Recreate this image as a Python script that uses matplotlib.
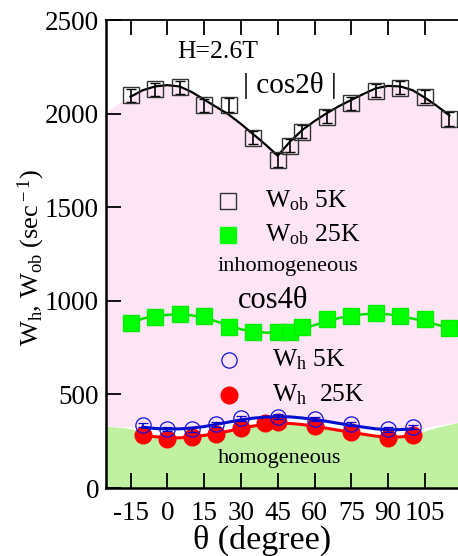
import matplotlib.pyplot as plt
import numpy as np

plt.rcParams['font.family'] = ['Liberation Serif', 'DejaVu Serif']
plt.rcParams['mathtext.fontset'] = 'custom'
plt.rcParams['mathtext.rm'] = 'Liberation Serif'
plt.rcParams['mathtext.it'] = 'Liberation Serif:italic'
plt.rcParams['axes.unicode_minus'] = False

# W_ob data (squares)
theta_ob = [-15, -5, 5, 15, 25, 35, 45, 50, 55, 65, 75, 85, 95, 105, 115]
wob_5k = [2099, 2130, 2140, 2045, 2046, 1870, 1752, 1829, 1903, 1983, 2055, 2122, 2139, 2090, 1971]
wob_5k_err = [35, 35, 35, 35, 35, 35, 35, 35, 35, 35, 35, 35, 35, 35, 35]
wob_25k = [880, 915, 929, 919, 859, 832, 832, 832, 862, 903, 919, 933, 919, 901, 853]

# W_h data (circles)
theta_h5 = [-10, 0, 10, 20, 30, 45, 60, 75, 90, 100]
wh_5k = [336, 315, 313, 340, 372, 381, 369, 342, 313, 327]
wh_5k_err = [12, 12, 12, 12, 12, 12, 12, 12, 12, 12]
theta_h25 = [-10, 0, 10, 20, 30, 40, 45, 60, 75, 90, 100]
wh_25k = [283, 260, 274, 287, 319, 346, 354, 333, 301, 265, 283]

# fit curves
fit_x_ob = [-15, -10, -5, 0, 5, 10, 15, 20, 25, 30, 35, 40, 45, 50, 55, 60, 65, 70, 75, 80,
            85, 90, 95, 100, 105, 110, 115]
fit_cos2 = [2090, 2125, 2145, 2152, 2145, 2115, 2075, 2035, 1995, 1945, 1890, 1835, 1775, 1850,
            1912, 1960, 2002, 2040, 2073, 2105, 2135, 2148, 2145, 2125, 2085, 2040, 1990]
fit_cos4 = [880, 905, 918, 925, 928, 922, 910, 890, 868, 848, 836, 830, 830, 835, 850, 870,
            890, 908, 920, 928, 932, 928, 918, 905, 890, 872, 855]
fit_x_h = [-10, -5, 0, 5, 10, 15, 20, 25, 30, 35, 40, 45, 50, 55, 60, 65, 70, 75, 80, 85, 90, 95, 100]
fit_h5 = [325, 318, 315, 316, 320, 328, 340, 352, 364, 373, 379, 381, 380, 374, 366, 356, 345,
          335, 325, 316, 311, 312, 316]
fit_h25 = [285, 274, 268, 268, 273, 281, 291, 304, 318, 331, 341, 346, 345, 339, 330, 319, 308,
           298, 287, 277, 272, 273, 278]

# shaded regions
shade_x = [-25, -20, -15, -10, 0, 10, 20, 30, 40, 45, 60, 75, 90, 100, 105, 110, 118.5]
pink_top = [2005, 2055, 2090, 2125, 2152, 2115, 2035, 1945, 1835, 1775, 1960, 2073, 2148, 2125,
            2085, 2040, 1955]
pink_bottom = [330, 328, 326, 325, 315, 320, 340, 364, 379, 381, 366, 335, 311, 316, 325, 335, 352]
green_top = [330, 325, 318, 292, 268, 273, 291, 318, 341, 346, 330, 298, 272, 278, 305, 325, 350]

fig = plt.figure(figsize=(4.58, 5.56), dpi=100)
ax = fig.add_axes([106 / 458, 68 / 556, 352 / 458, 468 / 556])

ax.fill_between(shade_x, pink_bottom, pink_top, color='#fde5f6', lw=0, zorder=0)
ax.fill_between(shade_x, 0, green_top, color='#c0f0a0', lw=0, zorder=0)

ax.plot(fit_x_ob, fit_cos2, color='black', lw=1.6, zorder=2)
ax.plot(fit_x_ob, fit_cos4, color='#00e000', lw=1.8, zorder=2)
ax.plot(fit_x_h, fit_h5, color='#0010cc', lw=2.2, zorder=4)
ax.plot(fit_x_h, fit_h25, color='#ff0000', lw=2.2, zorder=2)

ax.errorbar(theta_ob, wob_5k, yerr=wob_5k_err, fmt='s', ms=12, mfc='none', mec='#333333',
            mew=1.0, ecolor='black', elinewidth=1.2, capsize=3.5, capthick=1.2, zorder=3)
ax.plot(theta_ob, wob_25k, 's', ms=12, color='#00ff00', mec='#00ee00', zorder=3)
ax.plot(theta_h25, wh_25k, 'o', ms=12, color='#ff0000', zorder=3)
ax.errorbar(theta_h5, wh_5k, yerr=wh_5k_err, fmt='o', ms=11, mfc='none', mec='#1010e0',
            mew=0.9, ecolor='#0000cc', elinewidth=1.2, capsize=3.5, capthick=1.2, zorder=5)

# legend-like annotations
ax.plot([24.7], [1535], 's', ms=12, mfc='none', mec='#333333', mew=1.0)
ax.plot([24.7], [1352], 's', ms=12, color='#00ff00')
ax.plot([25.1], [684], 'o', ms=11, mfc='none', mec='#1010e0', mew=0.9)
ax.plot([25.1], [497], 'o', ms=12, color='#ff0000')
ax.text(39.8, 1535, r'W$_{\rm ob}$ 5K', fontsize=18.5, va='center')
ax.text(39.8, 1352, r'W$_{\rm ob}$ 25K', fontsize=18.5, va='center')
ax.text(42.7, 684, r'W$_{\rm h}$ 5K', fontsize=18.5, va='center')
ax.text(42.7, 497, r'W$_{\rm h}$  25K', fontsize=18.5, va='center')
ax.text(49.2, 1181, 'inhomogeneous', fontsize=16, ha='center', va='center')
ax.text(45.9, 160, 'homogeneous', fontsize=16, ha='center', va='center')
ax.text(20.7, 2329, 'H=2.6T', fontsize=18.5, ha='center', va='center')
ax.text(50, 2148, '| cos2θ |', fontsize=21, ha='center', va='center')
ax.text(43.1, 1004, 'cos4θ', fontsize=22, ha='center', va='center')

ax.set_xlim(-25, 118.5)
ax.set_ylim(0, 2500)
ax.set_xticks([-15, 0, 15, 30, 45, 60, 75, 90, 105])
ax.set_yticks([0, 500, 1000, 1500, 2000, 2500])
ax.tick_params(direction='in', length=11, width=1.3, labelsize=19.5, top=True)
ax.tick_params(axis='y', pad=5)
ax.tick_params(axis='x', pad=9)
ax.spines['right'].set_visible(False)
ax.spines['left'].set_linewidth(1.8)
ax.spines['bottom'].set_linewidth(1.8)
ax.spines['top'].set_linewidth(1.3)

fig.text(262 / 458, 1 - 540.5 / 556, 'θ (degree)', fontsize=24.5, ha='center', va='center')
ax.set_ylabel(r'W$_{\rm h}$, W$_{\rm ob}$ (sec$^{\rm -1}$)', fontsize=19)
ax.yaxis.set_label_coords(-0.167, 0.492)

plt.savefig('out.png', dpi=100)
